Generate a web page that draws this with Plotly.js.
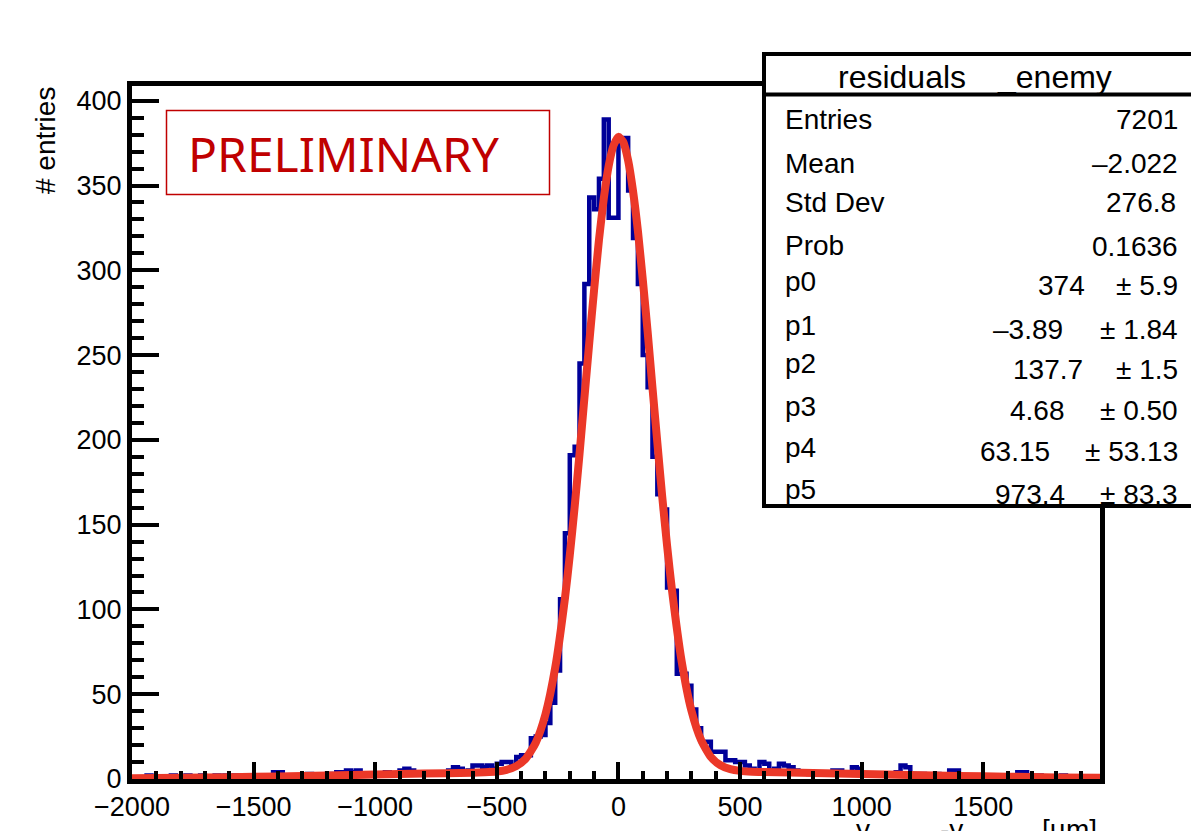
<!DOCTYPE html>
<html><head><meta charset="utf-8">
<script src="https://cdn.plot.ly/plotly-3.0.1.min.js"></script>
<style>html,body{margin:0;padding:0;background:#fff;} #chart{width:1191px;height:831px;}</style>
</head><body><div id="chart"></div>
<script>
// ---- data ----
const binStart = -2000;
const binWidth = 20;
// counts per 20 um bin, -2000 .. -520
const countsLeftTail = [
  1,0,1,2,0,1,1,0,2,1,
  1,2,0,1,2,1,1,2,1,2,
  1,2,1,2,1,2,1,2,1,4,
  4,2,1,2,2,1,3,2,1,2,
  3,2,4,4,5,4,5,3,2,3,
  2,3,4,3,3,5,6,5,3,4,
  3,4,3,4,3,5,7,6,4,5,
  8,8,7,8,6
];
// -500 .. 500
const countsCore = [
  9,10,10,8,13,14,14,24,25,26,
  33,45,64,106,145,191,196,245,292,343,
  336,354,389,331,331,377,378,347,319,292,
  250,231,190,168,159,113,111,62,62,55,
  41,30,22,22,16,16,16,11,11,10,
  10
];
// 520 .. 1980
const countsRightTail = [
  8,6,5,10,9,5,6,9,8,7,
  5,4,4,3,4,3,4,3,5,5,
  3,4,7,6,3,3,2,3,2,3,
  2,4,8,7,3,2,3,1,2,3,
  1,2,5,5,2,1,2,1,2,1,
  2,1,1,2,1,2,4,4,1,1,
  2,1,0,1,1,2,1,0,1,1,
  0,1,0,1
];
// fitted curve
const fitX = [-2000,-1800,-1600,-1400,-1200,-1000,-800,-600,-550,-500,-460,-420,-380,-340,-300,-260,-220,-200,-180,-160,-140,-120,-100,-80,-60,-40,-20,0,20,40,60,80,100,120,140,160,180,200,220,260,300,340,380,420,460,500,550,600,800,1000,1200,1400,1600,1800,2000];
const fitY = [0.5,0.75,1.1,1.5,2.0,2.6,3.2,3.7,3.95,4.4,5.4,7.6,12.2,21.4,38.2,65.6,106.5,132,160.5,191.8,224.6,257.2,288.6,317.9,342.6,361.7,373.7,378.7,375.7,364.7,346.7,323.3,294.7,263.9,230.7,198.3,166.6,137.6,111.6,69.3,40.4,22.9,13.0,8.1,5.8,4.8,4.3,4.1,3.5,2.9,2.4,1.8,1.35,0.95,0.65];

const xTickVals = [-2000,-1500,-1000,-500,0,500,1000,1500];
const yTickVals = [0,50,100,150,200,250,300,350,400];

const statsTitleA = 'residuals';
const statsTitleB = '_enemy';
const statsLabels = ['Entries','Mean','Std Dev','Prob','p0','p1','p2','p3','p4','p5'];
const statsValues = ['7201','–2.022','276.8','0.1636','374','–3.89','137.7','4.68','63.15','973.4'];
const statsErrors = ['','','','','± 5.9','± 1.84','± 1.5','± 0.50','± 53.13','± 83.3'];

const yTitle = '# entries';
const xTitleParts = ['y', '-y', '[µm]'];
const stamp = 'PRELIMINARY';

// ---- build histogram step outline ----
const counts = countsLeftTail.concat(countsCore, countsRightTail);
const hx = counts.map((c, i) => binStart + i * binWidth);
const hy = counts.slice();
hx.push(binStart + counts.length * binWidth);
hy.push(counts[counts.length - 1]);

// ---- geometry helpers (layout only) ----
const W = 1191, H = 831;
const M = {l: 132, r: 91, t: 86, b: 52};
const PW = W - M.l - M.r, PH = H - M.t - M.b;
const px = x => (x - M.l) / PW;
const py = y => (H - M.b - y) / PH;

const FONT = 'Liberation Sans, Arial, Helvetica, sans-serif';

const shapes = [
  // PRELIMINARY frame
  {type:'rect', xref:'paper', yref:'paper', x0:px(166.5), x1:px(549.5), y0:py(194.5), y1:py(110.5),
   line:{color:'#c00000', width:1.5}, fillcolor:'rgba(0,0,0,0)', layer:'above'},
  // stats box
  {type:'rect', xref:'paper', yref:'paper', x0:px(764), x1:px(1215), y0:py(506), y1:py(54),
   line:{color:'#000', width:4}, fillcolor:'#fff', layer:'above'},
  {type:'line', xref:'paper', yref:'paper', x0:px(764), x1:px(1215), y0:py(94.5), y1:py(94.5),
   line:{color:'#000', width:4}, layer:'above'}
];

const annotations = [];
function ann(text, x, y, xanchor, size, extra) {
  annotations.push(Object.assign({text:text, xref:'paper', yref:'paper', x:px(x), y:py(y),
    xanchor:xanchor, yanchor:'middle', showarrow:false, font:{family:FONT, size:size, color:'#000'}}, extra||{}));
}
ann(stamp, 186, 153, 'left', 48, {font:{family:'Noto Sans, Open Sans, sans-serif', size:48, color:'#c00000'}});
ann(statsTitleA, 836, 77, 'left', 32);
ann(statsTitleB, 995, 77, 'left', 32);
const rowLabelY = [120, 163, 202, 245, 281, 325, 363, 406, 447, 490];
const rowValY   = [120, 163, 203, 246, 285, 329, 369, 410, 451, 494];
const valRight  = [1180, 1180, 1178, 1180, 1087, 1065, 1085, 1067, 1052, 1067];
statsLabels.forEach((lab, i) => {
  ann(lab, 783, rowLabelY[i], 'left', 28);
  ann(statsValues[i], valRight[i], rowValY[i], 'right', 28);
  if (statsErrors[i]) ann(statsErrors[i], 1180, rowValY[i], 'right', 28);
});
ann(yTitle, 45, 141, 'center', 28, {textangle:-90});
const xtPos = [863, 951, 1069];
xTitleParts.forEach((t, i) => {
  annotations.push({text:t, xref:'paper', yref:'paper', x:px(xtPos[i]), y:py(812),
    xanchor:'center', yanchor:'top', showarrow:false, font:{family:FONT, size:28, color:'#000'}});
});

const traces = [
  {x:hx, y:hy, type:'scatter', mode:'lines', line:{shape:'hv', color:'#000099', width:4.5}, hoverinfo:'skip'},
  {x:fitX, y:fitY, type:'scatter', mode:'lines', line:{shape:'spline', smoothing:0.6, color:'#eb3828', width:8}, hoverinfo:'skip'}
];

const layout = {
  width: W, height: H,
  margin: M,
  paper_bgcolor:'#fff', plot_bgcolor:'#fff',
  showlegend:false,
  font:{family:FONT, size:27, color:'#000'},
  xaxis:{
    range:[-2000, 1980], showgrid:false, zeroline:false,
    showline:true, linecolor:'#000', linewidth:5, mirror:true,
    ticks:'inside', ticklen:17, tickwidth:4, tickcolor:'#000',
    tickmode:'array', tickvals:xTickVals,
    tickfont:{family:FONT, size:27, color:'#000'},
    minor:{ticks:'inside', dtick:100, ticklen:8, tickwidth:4, tickcolor:'#000'}
  },
  yaxis:{
    range:[0, 408.7], showgrid:false, zeroline:false,
    showline:true, linecolor:'#000', linewidth:5, mirror:true,
    ticks:'inside', ticklen:27, tickwidth:4, tickcolor:'#000',
    tickmode:'array', tickvals:yTickVals,
    tickfont:{family:FONT, size:27, color:'#000'},
    minor:{ticks:'inside', dtick:10, ticklen:12, tickwidth:4, tickcolor:'#000'}
  },
  shapes: shapes,
  annotations: annotations
};

Plotly.newPlot('chart', traces, layout, {displayModeBar:false, staticPlot:true});
</script>
</body></html>
